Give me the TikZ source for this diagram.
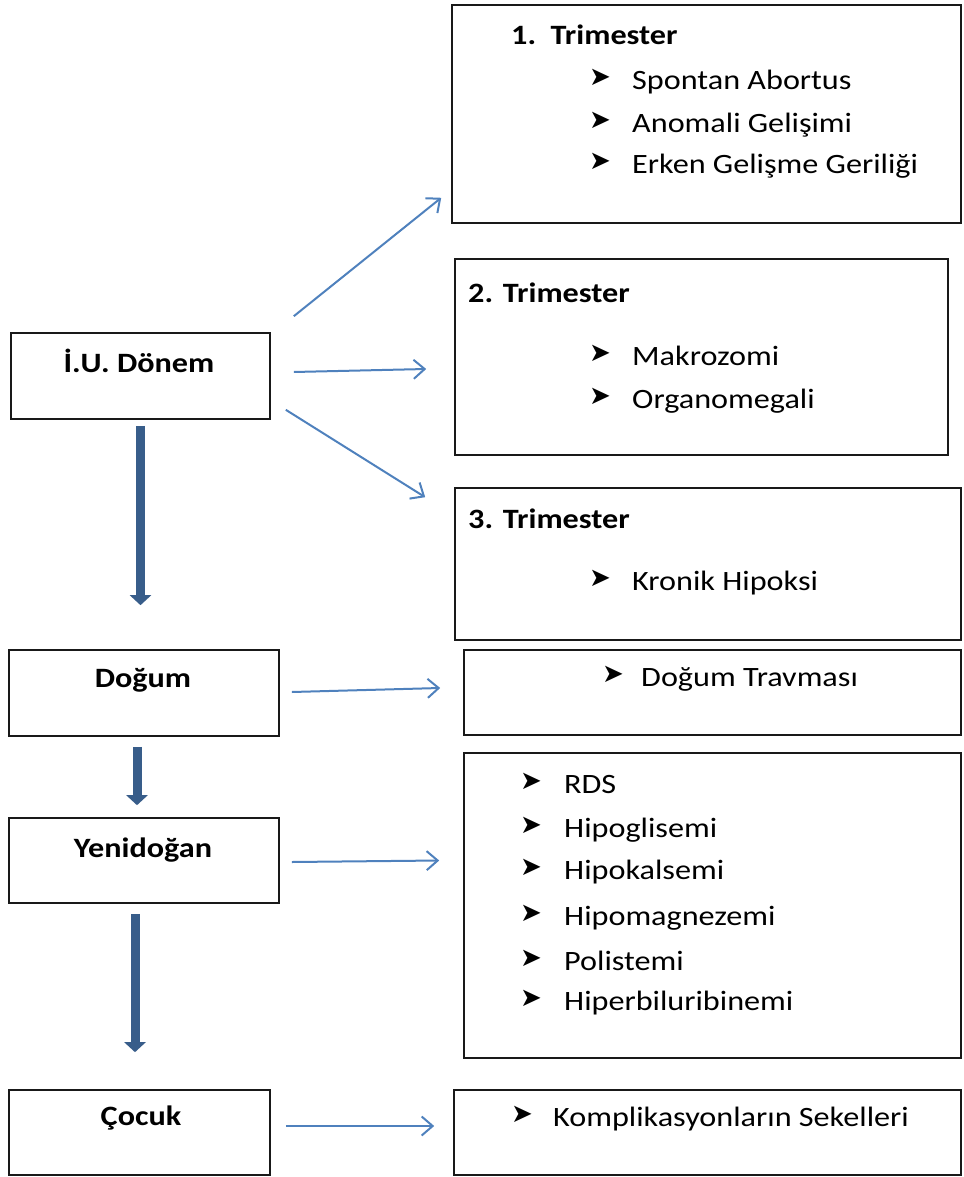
\documentclass[tikz,border=0pt]{standalone}
\usepackage{fontspec}
\setmainfont{Carlito}[FakeStretch=1.15]
\newfontfamily\dvfont{DejaVu Sans}
\usetikzlibrary{arrows.meta}
\definecolor{thinblue}{RGB}{79,129,189}
\definecolor{thickblue}{RGB}{56,93,138}
\tikzset{
  box/.style={draw=black!90,line width=1.6pt,inner sep=0pt},
  ttl/.style={font=\fontsize{28}{30}\selectfont\bfseries,inner sep=0pt,anchor=base},
  hd/.style={font=\fontsize{28}{30}\selectfont\bfseries,inner sep=0pt,anchor=base west},
  itm/.style={font=\fontsize{28}{30}\selectfont,inner sep=0pt,anchor=base west},
  blt/.style={font=\dvfont\fontsize{26}{26}\selectfont,inner sep=0pt,anchor=base west,xshift=-3pt,yshift=4pt},
  la/.style={thinblue,line width=2pt,-{Straight Barb[length=11pt,width=19pt]}},
  da/.style={thickblue,line width=9pt,-{Triangle[length=10pt,width=21pt]}}
}
\newcommand{\bitem}[5]{\node[blt] (#1b) at (#2,#4) {➤}; \node[itm] (#1) at (#3,#4) {#5};}

\begin{document}
\begin{tikzpicture}[x=1pt,y=-1pt]
\useasboundingbox (0,0) rectangle (963,1177);
% left column
\node[box,minimum width=259pt,minimum height=86pt] (iu) at (140.5,376) {};
\node[ttl] (iut) at (139,372) {İ.U. Dönem};
\node[box,minimum width=270pt,minimum height=86pt] (dogum) at (144,693) {};
\node[ttl] (dogumt) at (143,687) {Doğum};
\node[box,minimum width=270pt,minimum height=85pt] (yeni) at (144,860.5) {};
\node[ttl] (yenit) at (143,857) {Yenidoğan};
\node[box,minimum width=261pt,minimum height=85pt] (cocuk) at (139.5,1132.5) {};
\node[ttl] (cocukt) at (141,1125) {Çocuk};
% right column
\node[box,minimum width=509pt,minimum height=218pt] (t1) at (706.5,114) {};
\node[hd] (t1h) at (511,45) {1.\ \ Trimester};
\bitem{sa}{592}{632}{90}{Spontan Abortus}
\bitem{ag}{592}{632}{133}{Anomali Gelişimi}
\bitem{eg}{592}{632}{174}{Erken Gelişme Geriliği}
\node[box,minimum width=493pt,minimum height=196pt] (t2) at (701.5,357) {};
\node[hd] (t2h) at (468,302) {2. Trimester};
\bitem{mk}{592}{632}{365}{Makrozomi}
\bitem{om}{592}{632}{408}{Organomegali}
\node[box,minimum width=506pt,minimum height=152pt] (t3) at (708,564) {};
\node[hd] (t3h) at (468,528) {3. Trimester};
\bitem{kh}{592}{632}{590}{Kronik Hipoksi}
\node[box,minimum width=497pt,minimum height=85pt] (trav) at (712.5,692.5) {};
\bitem{dt}{605}{641}{686}{Doğum Travması}
\node[box,minimum width=497pt,minimum height=305pt] (yd) at (712.5,905.5) {};
\bitem{rds}{523}{564}{793}{RDS}
\bitem{hg}{523}{564}{837}{Hipoglisemi}
\bitem{hk}{523}{564}{879}{Hipokalsemi}
\bitem{hm}{523}{564}{925}{Hipomagnezemi}
\bitem{ps}{523}{564}{970}{Polistemi}
\bitem{hb}{523}{564}{1010}{Hiperbiluribinemi}
\node[box,minimum width=507pt,minimum height=85pt] (sek) at (707.5,1132.5) {};
\bitem{ks}{514}{553}{1126}{Komplikasyonların Sekelleri}
% arrows
\draw[la] ([shift={(23pt,16pt)}]iu.north east) -- ([shift={(-10pt,26pt)}]t1.south west);
\draw[la] ([shift={(23pt,4pt)}]iu.east) -- ([shift={(-28pt,-12pt)}]t2.west);
\draw[la] ([shift={(15pt,10pt)}]iu.south east) -- ([shift={(-29pt,-10pt)}]t3.north west);
\draw[la] ([shift={(12pt,1pt)}]dogum.east) -- ([shift={(-23pt,4.5pt)}]trav.west);
\draw[la] ([shift={(12pt,-1.5pt)}]yeni.east) -- ([shift={(-24pt,45pt)}]yd.west);
\draw[la] ([shift={(15pt,6.5pt)}]cocuk.east) -- ([shift={(-19pt,6.5pt)}]sek.west);
\draw[da] ([yshift=-6pt]iu.south) -- ([yshift=44pt]iu.south |- dogum.north);
\draw[da] ([shift={(-7pt,-10pt)}]dogum.south) -- ([shift={(-7pt,12pt)}]dogum.south |- yeni.north);
\draw[da] ([shift={(-9pt,-10pt)}]yeni.south) -- ([shift={(-9pt,37pt)}]yeni.south |- cocuk.north);
\end{tikzpicture}
\end{document}
